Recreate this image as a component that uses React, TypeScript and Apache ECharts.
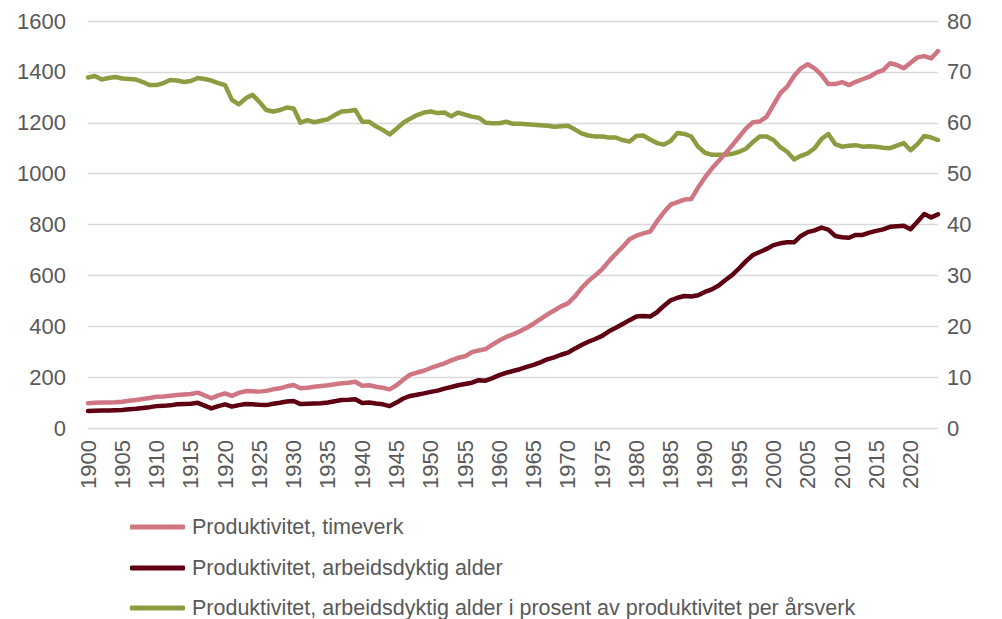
import React, { useEffect, useRef } from "react";
import * as echarts from "echarts";

const years: string[] = [];
for (let y = 1900; y <= 2024; y++) years.push(String(y));

const timeverk = [
  97, 99, 100, 100, 101, 103, 107, 110, 114, 118,
  123, 124, 127, 130, 132, 134, 139, 128, 117, 128,
  136, 126, 138, 145, 144, 143, 146, 152, 156, 164,
  169, 156, 158, 162, 165, 168, 172, 176, 178, 182,
  166, 168, 162, 158, 152, 168, 190, 210, 218, 225,
  236, 245, 254, 266, 276, 282, 298, 305, 310, 328,
  344, 358, 368, 380, 394, 410, 428, 446, 462, 478,
  490, 516, 550, 578, 600, 624, 656, 685, 712, 742,
  756, 765, 772, 812, 848, 878, 888, 898, 900, 945,
  985, 1020, 1050, 1080, 1112, 1145, 1178, 1202, 1205, 1224,
  1270, 1316, 1342, 1384, 1414, 1430, 1414, 1388, 1352, 1352,
  1360, 1348, 1361, 1371, 1381, 1397, 1407, 1434, 1427, 1414,
  1436, 1457, 1462, 1453, 1482,
];

const arbeidsdyktig = [
  67, 68, 69, 69, 70, 71, 74, 76, 79, 82,
  86, 87, 89, 93, 94, 95, 99, 88, 77, 86,
  93, 84, 90, 94, 93, 91, 90, 95, 99, 104,
  106, 94, 95, 96, 97, 100, 105, 110, 111, 113,
  98, 100, 96, 93, 86, 100, 116, 126, 131, 136,
  142, 147, 155, 161, 168, 173, 178, 188, 186, 196,
  208, 217, 224, 231, 240, 248, 258, 270, 278, 288,
  296, 312, 326, 339, 350, 362, 380, 394, 409, 424,
  438, 440, 438, 455, 480, 502, 512, 519, 517, 522,
  535, 545, 560, 582, 602, 628, 656, 680, 692, 704,
  719, 726, 730, 730, 755, 770, 777, 788, 780, 755,
  750, 748, 759, 759, 768, 775, 781, 791, 793, 795,
  781, 811, 841, 828, 840,
];

const prosent = [
  68.9, 69.2, 68.5, 68.8, 69.0, 68.7, 68.6, 68.5, 68.0, 67.4,
  67.4, 67.8, 68.4, 68.3, 68.0, 68.2, 68.8, 68.6, 68.3, 67.8,
  67.4, 64.5, 63.6, 64.8, 65.5, 64.1, 62.5, 62.2, 62.5, 63.0,
  62.8, 60.0, 60.5, 60.1, 60.4, 60.7, 61.5, 62.2, 62.3, 62.5,
  60.2, 60.2, 59.3, 58.6, 57.7, 58.8, 60.0, 60.8, 61.5, 62.0,
  62.2, 61.9, 62.0, 61.3, 62.0, 61.6, 61.2, 61.0, 60.0, 59.9,
  59.9, 60.2, 59.8, 59.8, 59.7, 59.6, 59.5, 59.4, 59.2, 59.3,
  59.4, 58.7, 57.9, 57.5, 57.3, 57.3, 57.1, 57.1, 56.6, 56.3,
  57.4, 57.5, 56.7, 56.0, 55.7, 56.4, 58.0, 57.8, 57.3, 55.3,
  54.1, 53.7, 53.7, 53.7, 53.9, 54.3, 54.9, 56.2, 57.3, 57.3,
  56.6, 55.2, 54.3, 52.8, 53.5, 54.0, 55.0, 56.8, 57.8, 55.8,
  55.3, 55.5, 55.6, 55.3, 55.4, 55.3, 55.1, 55.0, 55.5, 56.0,
  54.6, 55.8, 57.4, 57.1, 56.6,
];

const seriesNames = [
  "Produktivitet, timeverk",
  "Produktivitet, arbeidsdyktig alder",
  "Produktivitet, arbeidsdyktig alder i prosent av produktivitet per årsverk",
];
const colors = ["#D07682", "#5E0012", "#8E9B41"];

const FONT = "Liberation Sans, Arial, sans-serif";
const TEXT = "#595959";

export default function App() {
  const ref = useRef<HTMLDivElement>(null);
  useEffect(() => {
    document.body.style.margin = "0";
    if (!ref.current) return;
    const chart = echarts.init(ref.current, undefined, { renderer: "svg" });
    const mkLine = (i: number, data: number[], axis: number) => ({
      name: seriesNames[i],
      type: "line",
      data,
      yAxisIndex: axis,
      showSymbol: false,
      symbol: "none",
      lineStyle: { color: colors[i], width: 4.5, cap: "round", join: "round" },
      itemStyle: { color: colors[i] },
      z: axis === 1 ? 1 : 2 + i,
    });
    const legendTops = [516, 557, 597];
    const legends = seriesNames.map((n, i) => ({
      left: 130,
      top: legendTops[i],
      padding: 0,
      icon: "roundRect",
      itemWidth: 55,
      itemHeight: 5,
      itemGap: 0,
      textStyle: {
        fontFamily: FONT,
        fontSize: 21.5,
        lineHeight: 22,
        color: TEXT,
        padding: [0, 0, 0, 2],
      },
      data: [n],
    }));
    chart.setOption({
      animation: false,
      grid: { left: 88, right: 64, top: 21, bottom: 191 },
      legend: legends,
      xAxis: {
        type: "category",
        data: years,
        boundaryGap: false,
        axisLine: { show: false },
        axisTick: { show: false },
        splitLine: { show: false },
        axisLabel: {
          interval: 4,
          rotate: 90,
          margin: 12,
          fontFamily: FONT,
          fontSize: 22,
          color: TEXT,
        },
      },
      yAxis: [
        {
          type: "value",
          min: 0,
          max: 1600,
          interval: 200,
          axisLine: { show: false },
          axisTick: { show: false },
          splitLine: { lineStyle: { color: "#D9D9D9", width: 1.3 } },
          axisLabel: {
            fontFamily: FONT,
            fontSize: 22,
            color: TEXT,
            margin: 22,
            formatter: (v: number) => String(v),
          },
        },
        {
          type: "value",
          min: 0,
          max: 80,
          interval: 10,
          axisLine: { show: false },
          axisTick: { show: false },
          splitLine: { show: false },
          axisLabel: {
            fontFamily: FONT,
            fontSize: 22,
            color: TEXT,
            margin: 9,
            formatter: (v: number) => String(v),
          },
        },
      ],
      series: [
        mkLine(2, prosent, 1),
        mkLine(0, timeverk, 0),
        mkLine(1, arbeidsdyktig, 0),
      ],
    });
    return () => chart.dispose();
  }, []);
  return <div ref={ref} style={{ width: 1002, height: 619 }} />;
}
